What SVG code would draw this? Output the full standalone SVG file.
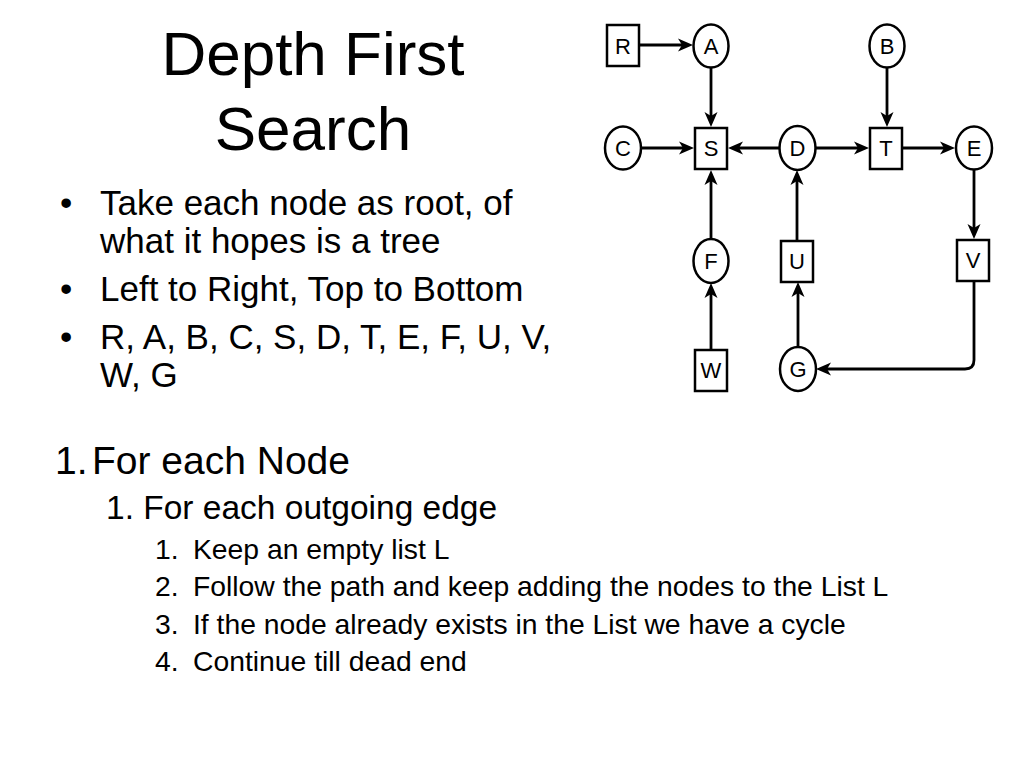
<svg xmlns="http://www.w3.org/2000/svg" width="1024" height="768" viewBox="0 0 1024 768">
  <style>
    text { font-family: "Liberation Sans", Arial, Helvetica, sans-serif; fill: #000; }
    .title { font-size: 62px; text-anchor: middle; }
    .bul { font-size: 35px; }
    .l1 { font-size: 39px; }
    .l2 { font-size: 33.5px; }
    .l3 { font-size: 28.3px; }
    .lbl { font-size: 22px; text-anchor: middle; }
    .node { fill: #fff; stroke: #000; stroke-width: 2.5; }
    .edge { fill: none; stroke: #000; stroke-width: 2.8; marker-end: url(#arr); }
  </style>
  <defs>
    <marker id="arr" markerUnits="userSpaceOnUse" markerWidth="40" markerHeight="40" refX="0" refY="0" orient="auto" overflow="visible">
      <path d="M9,0 L-6,-6.5 L-2,0 L-6,6.5 Z" fill="#000" stroke="none"/>
    </marker>
  </defs>
  <rect width="1024" height="768" fill="#fff"/>

  <g id="title">
    <text class="title" x="313" y="75">Depth First</text>
    <text class="title" x="313" y="150">Search</text>
  </g>

  <g id="bullets">
    <text class="bul" x="60" y="215">•</text>
    <text class="bul" x="100" y="215">Take each node as root, of</text>
    <text class="bul" x="100" y="253">what it hopes is a tree</text>
    <text class="bul" x="60" y="301">•</text>
    <text class="bul" x="100" y="301">Left to Right, Top to Bottom</text>
    <text class="bul" x="60" y="349">•</text>
    <text class="bul" x="100" y="349">R, A, B, C, S, D, T, E, F, U, V,</text>
    <text class="bul" x="100" y="387">W, G</text>
  </g>

  <g id="steps">
    <text class="l1" x="55" y="474">1.</text>
    <text class="l1" x="92" y="474">For each Node</text>
    <text class="l2" x="106" y="519">1. For each outgoing edge</text>
    <text class="l3" x="155" y="558.5">1.</text>
    <text class="l3" x="193" y="558.5">Keep an empty list L</text>
    <text class="l3" x="155" y="596">2.</text>
    <text class="l3" x="193" y="596">Follow the path and keep adding the nodes to the List L</text>
    <text class="l3" x="155" y="633.5">3.</text>
    <text class="l3" x="193" y="633.5">If the node already exists in the List we have a cycle</text>
    <text class="l3" x="155" y="671">4.</text>
    <text class="l3" x="193" y="671">Continue till dead end</text>
  </g>

  <g id="connectors">
    <path class="edge" d="M639,45 L684,45"/>
    <path class="edge" d="M711,68 L711,118"/>
    <path class="edge" d="M887,68 L887,118"/>
    <path class="edge" d="M641,148 L685,148"/>
    <path class="edge" d="M779,148 L737,148"/>
    <path class="edge" d="M816,148 L860,148"/>
    <path class="edge" d="M903,148 L946,148"/>
    <path class="edge" d="M974,170 L974,230"/>
    <path class="edge" d="M711,239 L711,179"/>
    <path class="edge" d="M797,241 L797,179"/>
    <path class="edge" d="M711,350 L711,292"/>
    <path class="edge" d="M798,347 L798,291"/>
    <path class="edge" d="M974,281 L974,360 Q974,369 965,369 L825,369"/>
  </g>

  <g id="node-R"><rect class="node" x="607" y="25" width="32" height="41"/><text class="lbl" x="623" y="53.5">R</text></g>
  <g id="node-A"><ellipse class="node" cx="711" cy="46" rx="17.5" ry="21.5"/><text class="lbl" x="711" y="54">A</text></g>
  <g id="node-B"><ellipse class="node" cx="887" cy="46" rx="17.5" ry="21.5"/><text class="lbl" x="887" y="54">B</text></g>
  <g id="node-C"><ellipse class="node" cx="623" cy="148" rx="18" ry="21.5"/><text class="lbl" x="623" y="156">C</text></g>
  <g id="node-S"><rect class="node" x="695" y="128" width="32" height="41"/><text class="lbl" x="711" y="156">S</text></g>
  <g id="node-D"><ellipse class="node" cx="797.5" cy="148" rx="18" ry="22"/><text class="lbl" x="797.5" y="156">D</text></g>
  <g id="node-T"><rect class="node" x="870" y="128" width="32" height="41"/><text class="lbl" x="886" y="156">T</text></g>
  <g id="node-E"><ellipse class="node" cx="974" cy="148" rx="18" ry="21.5"/><text class="lbl" x="974" y="156">E</text></g>
  <g id="node-F"><ellipse class="node" cx="711" cy="261" rx="17.5" ry="22"/><text class="lbl" x="711" y="269">F</text></g>
  <g id="node-U"><rect class="node" x="781" y="241" width="32" height="41"/><text class="lbl" x="797" y="269">U</text></g>
  <g id="node-V"><rect class="node" x="957" y="240" width="32" height="41"/><text class="lbl" x="973" y="268">V</text></g>
  <g id="node-W"><rect class="node" x="695" y="350" width="32" height="41"/><text class="lbl" x="711" y="378">W</text></g>
  <g id="node-G"><ellipse class="node" cx="798" cy="369" rx="18" ry="22"/><text class="lbl" x="798" y="377">G</text></g>
</svg>
